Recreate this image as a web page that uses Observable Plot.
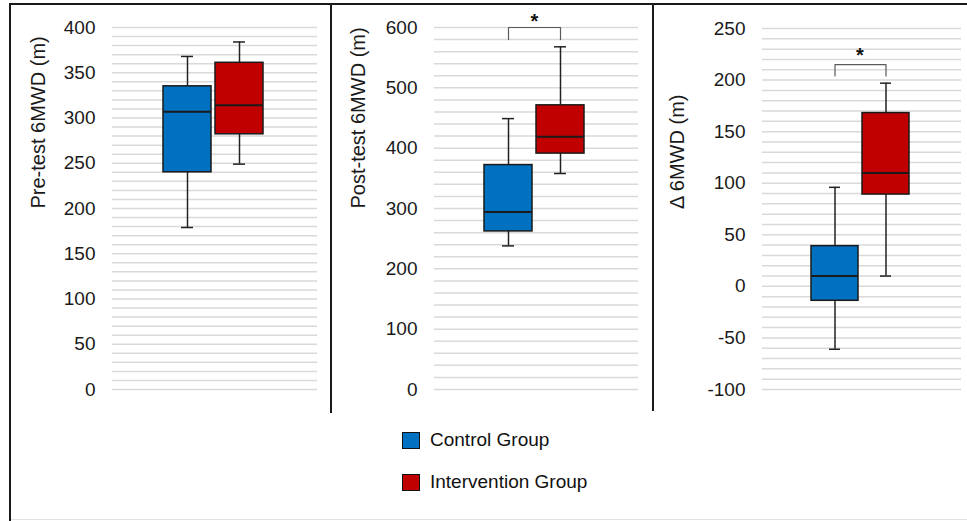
<!DOCTYPE html>
<html>
<head>
<meta charset="utf-8">
<script src="https://cdn.jsdelivr.net/npm/d3@7"></script>
<script src="https://cdn.jsdelivr.net/npm/@observablehq/plot@0.6"></script>
<style>
  html, body { margin: 0; padding: 0; background: #fff; }
  #wrap { position: relative; width: 967px; height: 521px; overflow: hidden; background: #fff; font-family: "Liberation Sans", Arial, sans-serif; }
  .panel { position: absolute; top: 0; }
  .line { position: absolute; background: #1a1a1a; z-index: 5; }
  .legend { position: absolute; left: 402px; z-index: 6; display: flex; align-items: center; font-size: 19px; color: #111; }
  .sw { width: 16px; height: 15px; border: 1.5px solid #111; margin-right: 10px; }
</style>
</head>
<body>
<div id="wrap">
  <div class="panel" id="p1" style="left:0px"></div>
  <div class="panel" id="p2" style="left:331px"></div>
  <div class="panel" id="p3" style="left:653px"></div>
  <div class="line" style="left:9px;top:3px;width:2px;height:518px"></div>
  <div class="line" style="left:9px;top:3px;width:958px;height:2px"></div>
  <div class="line" style="left:330px;top:3px;width:2px;height:410px"></div>
  <div class="line" style="left:652px;top:3px;width:2px;height:408px"></div>
  <div class="line" style="left:11px;top:519px;width:956px;height:1px;background:#e2e2e2"></div>
  <div class="legend" style="top:429px"><div class="sw" style="background:#0070C0"></div>Control Group</div>
  <div class="legend" style="top:471px"><div class="sw" style="background:#C00000"></div>Intervention Group</div>
</div>
<script>
// ---- data ----
const groups = ["Control Group", "Intervention Group"];
const colors = ["#0070C0", "#C00000"];

const preLow  = [179, 249];
const preQ1   = [240, 282];
const preMed  = [307, 314];
const preQ3   = [335, 361];
const preHigh = [368, 384];

const postLow  = [238, 358];
const postQ1   = [262, 391];
const postMed  = [294, 419];
const postQ3   = [372, 471];
const postHigh = [449, 568];

const deltaLow  = [-61, 10];
const deltaQ1   = [-14, 89];
const deltaMed  = [10, 110];
const deltaQ3   = [39, 168];
const deltaHigh = [96, 197];

const preTicks   = [0, 50, 100, 150, 200, 250, 300, 350, 400];
const postTicks  = [0, 100, 200, 300, 400, 500, 600];
const deltaTicks = [-100, -50, 0, 50, 100, 150, 200, 250];

// significance brackets: [bottom of legs, top bar, star level]
const postSig  = [580, 600, 610];
const deltaSig = [204, 215, 224];

function rows(low, q1, med, q3, high) {
  return groups.map((g, i) => ({group: g, low: low[i], q1: q1[i], med: med[i], q3: q3[i], high: high[i]}));
}

function panel(opts) {
  const data = rows(...opts.stats);
  const marks = [
    Plot.gridY(opts.grid, {stroke: "#d9d9d9", strokeOpacity: 1, strokeWidth: 1.5}),
    Plot.axisY(opts.ticks, {tickSize: 0, tickPadding: 17, tickFormat: d => String(d), fontSize: 19, label: null, fill: "#1a1a1a"}),
    Plot.ruleX(data, {x: "group", y1: "low", y2: "q1", stroke: "#222", strokeWidth: 1.5}),
    Plot.ruleX(data, {x: "group", y1: "q3", y2: "high", stroke: "#222", strokeWidth: 1.5}),
    Plot.tickY(data, {x: "group", y: "low", stroke: "#222", strokeWidth: 1.5, insetLeft: 18, insetRight: 18}),
    Plot.tickY(data, {x: "group", y: "high", stroke: "#222", strokeWidth: 1.5, insetLeft: 18, insetRight: 18}),
    Plot.barY(data, {x: "group", y1: "q1", y2: "q3", fill: (d, i) => colors[i], stroke: "#1a1a1a", strokeWidth: 1.5}),
    Plot.tickY(data, {x: "group", y: "med", stroke: "#1a1a1a", strokeWidth: 2}),
    Plot.text([opts.label], {frameAnchor: "left", dx: opts.labelDx, rotate: -90, fontSize: 20, fill: "#1a1a1a"})
  ];
  if (opts.sig) {
    const [lo, hi, star] = opts.sig;
    const pts = [
      {group: groups[0], y: lo}, {group: groups[0], y: hi},
      {group: groups[1], y: hi}, {group: groups[1], y: lo}
    ];
    marks.push(Plot.line(pts, {x: "group", y: "y", stroke: "#5a5a5a", strokeWidth: 1.2}));
    marks.push(Plot.text([{group: groups[0], y: star}], {x: "group", y: "y", text: () => "*", dx: opts.starDx, fontSize: 20, fontWeight: "bold", fill: "#111"}));
  }
  return Plot.plot({
    width: opts.width,
    height: 412,
    marginLeft: opts.ml,
    marginRight: opts.mr,
    marginTop: opts.mt,
    marginBottom: opts.mb,
    style: {fontFamily: "Liberation Sans, Arial, sans-serif", fontSize: "19px", background: "transparent"},
    x: {type: "band", domain: groups, range: opts.xr, paddingInner: 0.08, paddingOuter: 0, axis: null},
    y: {domain: opts.domain, axis: null},
    marks
  });
}

document.getElementById("p1").appendChild(panel({
  stats: [preLow, preQ1, preMed, preQ3, preHigh],
  width: 331, ml: 112, mr: 14, mt: 27, mb: 23,
  xr: [162, 263], domain: [0, 400],
  grid: d3.range(0, 401, 10), ticks: preTicks,
  label: "Pre-test 6MWD (m)", labelDx: -74
}));
document.getElementById("p2").appendChild(panel({
  stats: [postLow, postQ1, postMed, postQ3, postHigh],
  width: 322, ml: 103, mr: 15, mt: 27, mb: 23,
  xr: [153, 253], domain: [0, 600],
  grid: d3.range(0, 601, 20), ticks: postTicks,
  label: "Post-test 6MWD (m)", labelDx: -76,
  sig: postSig, starDx: 26
}));
document.getElementById("p3").appendChild(panel({
  stats: [deltaLow, deltaQ1, deltaMed, deltaQ3, deltaHigh],
  width: 314, ml: 109, mr: 6, mt: 28, mb: 23,
  xr: [158, 256], domain: [-100, 250],
  grid: d3.range(-100, 251, 10), ticks: deltaTicks,
  label: "Δ 6MWD (m)", labelDx: -85,
  sig: deltaSig, starDx: 25
}));
</script>
</body>
</html>
